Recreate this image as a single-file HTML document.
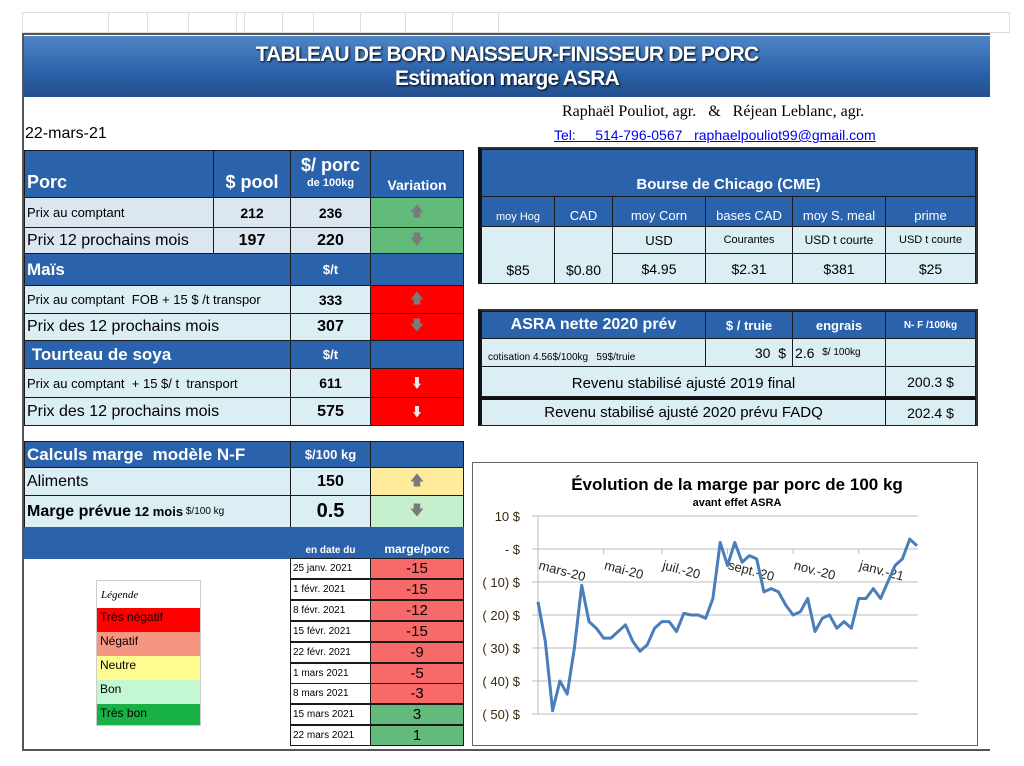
<!DOCTYPE html>
<html><head><meta charset="utf-8">
<style>
*{box-sizing:border-box;margin:0;padding:0}
body{width:1024px;height:766px;background:#fff;position:relative;overflow:hidden;font-family:"Liberation Sans",sans-serif;color:#000}
.a{position:absolute}
.c{position:absolute;border:1px solid #1a1a1a;display:flex;align-items:center;justify-content:center;overflow:hidden;white-space:nowrap}
.h{background:#2a62ab;color:#fff;font-weight:bold}
.l{background:#dce6f0}
.lb{background:#daeef3}
.left{justify-content:flex-start;padding-left:2px}
.g{background:#62bb7a}.r{background:#ff0000}.pr{background:#f86a6a}
.arr{color:#7a7a7a;font-size:14px}
.nb{font-weight:normal}
.wa{display:inline-block;width:8px;height:12px;background:#e8e8e8;clip-path:polygon(25% 0,75% 0,75% 55%,100% 55%,50% 100%,0 55%,25% 55%)}
</style></head><body>
<div class="a" style="left:22px;top:12px;width:988px;height:21px;border:1px solid #ddd"></div>
<div class="a" style="left:0;top:12px;width:1024px;height:21px">
<div class="a" style="left:108px;top:0;width:1px;height:21px;background:#ddd"></div>
<div class="a" style="left:147px;top:0;width:1px;height:21px;background:#ddd"></div>
<div class="a" style="left:188px;top:0;width:1px;height:21px;background:#ddd"></div>
<div class="a" style="left:236px;top:0;width:1px;height:21px;background:#ddd"></div>
<div class="a" style="left:244px;top:0;width:1px;height:21px;background:#ddd"></div>
<div class="a" style="left:282px;top:0;width:1px;height:21px;background:#ddd"></div>
<div class="a" style="left:313px;top:0;width:1px;height:21px;background:#ddd"></div>
<div class="a" style="left:360px;top:0;width:1px;height:21px;background:#ddd"></div>
<div class="a" style="left:405px;top:0;width:1px;height:21px;background:#ddd"></div>
<div class="a" style="left:452px;top:0;width:1px;height:21px;background:#ddd"></div>
<div class="a" style="left:498px;top:0;width:1px;height:21px;background:#ddd"></div>
</div>
<div class="a" style="left:22px;top:33px;width:968px;height:718px;border-left:2px solid #555;border-top:2px solid #555;border-bottom:2px solid #555"></div>
<div class="a" style="left:24px;top:36px;width:966px;height:61px;background:linear-gradient(#4f86c6,#2a62ab 60%,#244f8c);text-align:center;color:#fff;font-weight:bold;font-size:21px;line-height:24px;padding-top:7px;text-shadow:1px 1px 2px #000;letter-spacing:-0.8px">TABLEAU DE BORD NAISSEUR-FINISSEUR DE PORC<br>Estimation marge ASRA</div>
<div class="a" style="left:562px;top:103px;font-family:'Liberation Serif',serif;font-size:16px">Raphaël Pouliot, agr. &nbsp; &amp; &nbsp; Réjean Leblanc, agr.</div>
<div class="a" style="left:25px;top:125px;font-size:16px">22-mars-21</div>
<div class="a" style="left:554px;top:127px;font-size:14px;color:#0000ee;text-decoration:underline">Tel: &nbsp;&nbsp;&nbsp; 514-796-0567 &nbsp; raphaelpouliot99@gmail.com</div>

<div>
<div class="c h left" style="left:24px;top:150px;width:190px;height:48px;font-size:18px;align-items:flex-end;padding-bottom:4px">Porc</div>
<div class="c h" style="left:213px;top:150px;width:78px;height:48px;font-size:18px;align-items:flex-end;padding-bottom:4px">$ pool</div>
<div class="c h" style="left:290px;top:150px;width:81px;height:48px;flex-direction:column;font-size:18px;line-height:18px">$/ porc<span style="font-size:11px">de 100kg</span></div>
<div class="c h" style="left:370px;top:150px;width:94px;height:48px;font-size:14px;align-items:flex-end;padding-bottom:4px">Variation</div>

<div class="c l left" style="left:24px;top:197px;width:190px;height:31px;font-size:13px">Prix au comptant</div>
<div class="c l" style="left:213px;top:197px;width:78px;height:31px;font-size:14px;font-weight:bold">212</div>
<div class="c l" style="left:290px;top:197px;width:81px;height:31px;font-size:14px;font-weight:bold">236</div>
<div class="c g arr" style="left:370px;top:197px;width:94px;height:31px">🡅</div>
<div class="c l left" style="left:24px;top:227px;width:190px;height:27px;font-size:16px">Prix 12 prochains mois</div>
<div class="c l" style="left:213px;top:227px;width:78px;height:27px;font-size:16px;font-weight:bold">197</div>
<div class="c l" style="left:290px;top:227px;width:81px;height:27px;font-size:16px;font-weight:bold">220</div>
<div class="c g arr" style="left:370px;top:227px;width:94px;height:27px">🡇</div>

<div class="c h left" style="left:24px;top:253px;width:267px;height:33px;font-size:17px">Maïs</div>
<div class="c h" style="left:290px;top:253px;width:81px;height:33px;font-size:13px">$/t</div>
<div class="c h" style="left:370px;top:253px;width:94px;height:33px"></div>
<div class="c lb left" style="left:24px;top:285px;width:267px;height:29px;font-size:13px">Prix au comptant &nbsp;FOB + 15 $ /t transpor</div>
<div class="c lb" style="left:290px;top:285px;width:81px;height:29px;font-size:14px;font-weight:bold">333</div>
<div class="c r arr" style="left:370px;top:285px;width:94px;height:29px">🡅</div>
<div class="c lb left" style="left:24px;top:313px;width:267px;height:28px;font-size:16px">Prix des 12 prochains mois</div>
<div class="c lb" style="left:290px;top:313px;width:81px;height:28px;font-size:16px;font-weight:bold">307</div>
<div class="c r arr" style="left:370px;top:313px;width:94px;height:28px">🡇</div>

<div class="c h left" style="left:24px;top:340px;width:267px;height:29px;font-size:17px">&nbsp;Tourteau de soya</div>
<div class="c h" style="left:290px;top:340px;width:81px;height:29px;font-size:13px">$/t</div>
<div class="c h" style="left:370px;top:340px;width:94px;height:29px"></div>
<div class="c lb left" style="left:24px;top:368px;width:267px;height:30px;font-size:13px">Prix au comptant &nbsp;+ 15 $/ t &nbsp;transport</div>
<div class="c lb" style="left:290px;top:368px;width:81px;height:30px;font-size:14px;font-weight:bold">611</div>
<div class="c r" style="left:370px;top:368px;width:94px;height:30px"><span class="wa"></span></div>
<div class="c lb left" style="left:24px;top:397px;width:267px;height:29px;font-size:16px">Prix des 12 prochains mois</div>
<div class="c lb" style="left:290px;top:397px;width:81px;height:29px;font-size:16px;font-weight:bold">575</div>
<div class="c r" style="left:370px;top:397px;width:94px;height:29px"><span class="wa"></span></div>
</div>

<div class="a" style="left:478px;top:147px;width:500px;height:137px;border:2px solid #333;border-left:4px solid #111"></div>
<div class="c h" style="left:481px;top:149px;width:495px;height:48px;font-size:15px;align-items:flex-end;padding-bottom:3px">Bourse de Chicago (CME)</div>
<div class="c h nb" style="left:481px;top:196px;width:74px;height:31px;font-size:11px;align-items:flex-end;padding-bottom:3px">moy Hog</div>
<div class="c h nb" style="left:554px;top:196px;width:59px;height:31px;font-size:13px;align-items:flex-end;padding-bottom:3px">CAD</div>
<div class="c h nb" style="left:612px;top:196px;width:94px;height:31px;font-size:13px;align-items:flex-end;padding-bottom:3px">moy Corn</div>
<div class="c h nb" style="left:705px;top:196px;width:88px;height:31px;font-size:13px;align-items:flex-end;padding-bottom:3px">bases CAD</div>
<div class="c h nb" style="left:792px;top:196px;width:94px;height:31px;font-size:13px;align-items:flex-end;padding-bottom:3px">moy S. meal</div>
<div class="c h nb" style="left:885px;top:196px;width:91px;height:31px;font-size:13px;align-items:flex-end;padding-bottom:3px">prime</div>
<div class="c lb" style="left:481px;top:226px;width:74px;height:58px;font-size:14px;align-items:flex-end;padding-bottom:5px">$85</div>
<div class="c lb" style="left:554px;top:226px;width:59px;height:58px;font-size:14px;align-items:flex-end;padding-bottom:5px">$0.80</div>
<div class="c lb" style="left:612px;top:226px;width:94px;height:28px;font-size:13px">USD</div>
<div class="c lb" style="left:705px;top:226px;width:88px;height:28px;font-size:11px">Courantes</div>
<div class="c lb" style="left:792px;top:226px;width:94px;height:28px;font-size:12px">USD t courte</div>
<div class="c lb" style="left:885px;top:226px;width:91px;height:28px;font-size:11px">USD t courte</div>
<div class="c lb" style="left:612px;top:253px;width:94px;height:31px;font-size:14px">$4.95</div>
<div class="c lb" style="left:705px;top:253px;width:88px;height:31px;font-size:14px">$2.31</div>
<div class="c lb" style="left:792px;top:253px;width:94px;height:31px;font-size:14px">$381</div>
<div class="c lb" style="left:885px;top:253px;width:91px;height:31px;font-size:14px">$25</div>

<div class="a" style="left:478px;top:309px;width:500px;height:117px;border:2px solid #333;border-left:4px solid #111"></div>
<div class="c h" style="left:481px;top:311px;width:225px;height:28px;font-size:16px">ASRA nette 2020 prév</div>
<div class="c h" style="left:705px;top:311px;width:88px;height:28px;font-size:13px">$ / truie</div>
<div class="c h" style="left:792px;top:311px;width:94px;height:28px;font-size:13px">engrais</div>
<div class="c h" style="left:885px;top:311px;width:91px;height:28px;font-size:10px">N- F /100kg</div>
<div class="c lb left" style="left:481px;top:338px;width:225px;height:29px;font-size:10px;align-items:flex-end;padding-bottom:3px;padding-left:6px">cotisation 4.56$/100kg &nbsp; 59$/truie</div>
<div class="c lb" style="left:705px;top:338px;width:88px;height:29px;font-size:14px;justify-content:flex-end;padding-right:6px">30 &nbsp;$</div>
<div class="c lb left" style="left:792px;top:338px;width:94px;height:29px;font-size:14px">2.6 &nbsp;<span style="font-size:10px">$/ 100kg</span></div>
<div class="c lb" style="left:885px;top:338px;width:91px;height:29px"></div>
<div class="c lb" style="left:481px;top:366px;width:405px;height:31px;font-size:15px;padding-top:4px">Revenu stabilisé ajusté 2019 final</div>
<div class="c lb" style="left:885px;top:366px;width:91px;height:31px;font-size:14px">200.3 $</div>
<div class="c lb" style="left:481px;top:397px;width:405px;height:29px;font-size:15px;border-top:3px solid #111">Revenu stabilisé ajusté 2020 prévu FADQ</div>
<div class="c lb" style="left:885px;top:397px;width:91px;height:29px;font-size:14px;border-top:3px solid #111">202.4 $</div>

<div class="c h left" style="left:24px;top:441px;width:267px;height:27px;font-size:17px">Calculs marge &nbsp;modèle N-F</div>
<div class="c h" style="left:290px;top:441px;width:81px;height:27px;font-size:13px">$/100 kg</div>
<div class="c h" style="left:370px;top:441px;width:94px;height:27px"></div>
<div class="c lb left" style="left:24px;top:467px;width:267px;height:29px;font-size:16px">Aliments</div>
<div class="c lb" style="left:290px;top:467px;width:81px;height:29px;font-size:16px;font-weight:bold">150</div>
<div class="c arr" style="left:370px;top:467px;width:94px;height:29px;background:#ffeb9c">🡅</div>
<div class="c lb left" style="left:24px;top:495px;width:267px;height:33px;font-size:16px;font-weight:bold">Marge prévue <span style="font-size:13px">&nbsp;12 mois </span><span style="font-size:10px;font-weight:normal">&nbsp;$/100 kg</span></div>
<div class="c lb" style="left:290px;top:495px;width:81px;height:33px;font-size:20px;font-weight:bold">0.5</div>
<div class="c arr" style="left:370px;top:495px;width:94px;height:33px;background:#c6efce">🡇</div>
<div class="a h" style="left:24px;top:527px;width:267px;height:32px"></div>
<div class="c h" style="left:290px;top:527px;width:81px;height:32px;font-size:10px;align-items:flex-end;padding-bottom:3px;border:none">en date du</div>
<div class="c h" style="left:370px;top:527px;width:94px;height:32px;font-size:12px;align-items:flex-end;padding-bottom:3px;border:none">marge/porc</div>
<div id="hist"></div>

<div class="a" style="left:96px;top:580px;width:105px;height:146px;border:1px solid #ccc">
<div style="height:27px;font-family:'Liberation Serif',serif;font-style:italic;font-size:11px;padding:8px 0 0 4px">Légende</div>
<div style="height:24px;background:#f00;font-size:12px;padding:2px 0 0 3px">Très négatif</div>
<div style="height:24px;background:#f79680;font-size:12px;padding:2px 0 0 3px">Négatif</div>
<div style="height:24px;background:#fefc8e;font-size:12px;padding:2px 0 0 3px">Neutre</div>
<div style="height:24px;background:#c4f7d4;font-size:12px;padding:2px 0 0 3px">Bon</div>
<div style="height:21px;background:#17b145;font-size:12px;padding:2px 0 0 3px">Très bon</div>
</div>

<div class="a" style="left:472px;top:462px;width:506px;height:284px;border:1px solid #666"></div>
<svg class="a" id="chart" style="left:0;top:0" width="1024" height="766"></svg>

<script>
var dates=["25 janv. 2021","1 févr. 2021","8 févr. 2021","15 févr. 2021","22 févr. 2021","1 mars 2021","8 mars 2021","15 mars 2021","22 mars 2021"];
var marges=[-15,-15,-12,-15,-9,-5,-3,3,1];
var h=document.getElementById('hist');
for(var i=0;i<dates.length;i++){
 var y=558+i*20.9;
 var d=document.createElement('div');d.className='c left';
 
 
 d.style.cssText='left:290px;top:'+y+'px;width:81px;height:21px;font-size:10px;background:#fff';
 d.textContent=dates[i];h.appendChild(d);
 var m=document.createElement('div');m.className='c';
 
 
 m.style.cssText='left:370px;top:'+y+'px;width:94px;height:21px;font-size:15px;background:'+(marges[i]<0?'#f86a6a':'#62bb7a');
 m.textContent=marges[i];h.appendChild(m);
}

var series=[-16,-28,-49,-40,-44,-30,-11,-22,-24,-27,-27,-25,-23,-28,-31,-29,-24,-22,-22,-25,-19.5,-20,-20,-21,-15,2,-5,2,-4,-2,-3,-13,-12,-13,-17,-20,-19,-15,-25,-21,-20,-24,-22,-24,-15,-15,-12,-15,-10,-5,-3,3,1];
var yTicks=[10,0,-10,-20,-30,-40,-50];
var yTickLabels=["10  $","-    $","( 10) $","( 20) $","( 30) $","( 40) $","( 50) $"];
var months=["mars-20","mai-20","juil.-20","sept.-20","nov.-20","janv.-21"];
var monthIdx=[0,9,17,26,35,44];
var NS='http://www.w3.org/2000/svg',svg=document.getElementById('chart');
var x0=538,x1=917;
function X(i){return x0+i*(x1-x0)/(series.length-1);}
function Y(v){return 549-v*3.3;}
function el(t,a){var e=document.createElementNS(NS,t);for(var k in a)e.setAttribute(k,a[k]);svg.appendChild(e);return e;}
var t=el('text',{x:737,y:490,'text-anchor':'middle','font-size':17,'font-weight':'bold','font-family':'Liberation Sans'});t.textContent='Évolution de la marge par porc de 100 kg';

t=el('text',{x:737,y:506,'text-anchor':'middle','font-size':11,'font-weight':'bold','font-family':'Liberation Sans'});t.textContent='avant effet ASRA';

for(var i=0;i<yTicks.length;i++){
 var g=el('line',{x1:x0-6,x2:918,y1:Y(yTicks[i]),y2:Y(yTicks[i]),stroke:'#bbb','stroke-width':1});
 
 var l=el('text',{x:520,y:Y(yTicks[i])+5,'text-anchor':'end','font-size':13,fill:'#3a2a10','font-family':'Liberation Sans'});l.textContent=yTickLabels[i];
 
}
var ax=el('line',{x1:x0,x2:x0,y1:Y(10),y2:Y(-50),stroke:'#bbb'});

for(var i=0;i<months.length;i++){
 var mx=X(monthIdx[i]);
 var tk=el('line',{x1:mx,x2:mx,y1:Y(0),y2:Y(0)+5,stroke:'#bbb'});
 
 var ml=el('text',{x:mx,y:Y(0)+20,'font-size':13,fill:'#222','font-family':'Liberation Sans',transform:'rotate(15 '+mx+' '+(Y(0)+20)+')'});ml.textContent=months[i];
 
}
var pts=series.map(function(v,i){return X(i).toFixed(1)+','+Y(v).toFixed(1);}).join(' ');
var pl=el('polyline',{points:pts,fill:'none',stroke:'#4a7ebb','stroke-width':3,'stroke-linejoin':'round'});

</script>
</body></html>
